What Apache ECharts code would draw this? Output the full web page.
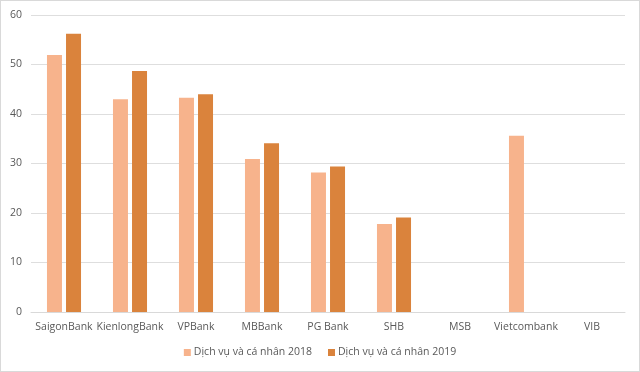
<!DOCTYPE html>
<html><head><meta charset="utf-8">
<script src="https://cdn.jsdelivr.net/npm/echarts@6/dist/echarts.min.js"></script>
<style>html,body{margin:0;padding:0;background:#fff}#c{width:640px;height:372px;box-sizing:border-box;border:1px solid #d9d9d9}</style>
</head><body><div id="c"></div>
<script>
const categories = ['SaigonBank','KienlongBank','VPBank','MBBank','PG Bank','SHB','MSB','Vietcombank','VIB'];
const series2018 = [51.9, 43.0, 43.3, 30.9, 28.2, 17.8, null, 35.6, null];
const series2019 = [56.2, 48.7, 44.0, 34.1, 29.4, 19.1, null, null, null];
const seriesNames = ['Dịch vụ và cá nhân 2018', 'Dịch vụ và cá nhân 2019'];
const yTicks = [0, 10, 20, 30, 40, 50, 60];

const font = '"Open Sans", sans-serif';
const chart = echarts.init(document.getElementById('c'));
chart.setOption({
  animation: false,
  textStyle: {fontFamily: font},
  grid: {left: 30, right: 14, top: 14, bottom: 59, containLabel: false},
  legend: {
    bottom: 8, left: 'center', itemWidth: 7, itemHeight: 7, itemGap: 16,
    icon: 'rect',
    textStyle: {fontFamily: font, fontSize: 10.5, color: '#595959', padding: [0,0,0,-2]},
    data: seriesNames
  },
  xAxis: {
    type: 'category', data: categories,
    axisLine: {lineStyle: {color: '#d9d9d9'}}, axisTick: {show: false},
    axisLabel: {fontFamily: font, fontSize: 10.5, color: '#595959', margin: 10, interval: 0}
  },
  yAxis: {
    type: 'value', min: yTicks[0], max: yTicks[yTicks.length-1], interval: 10,
    axisLine: {show: false}, axisTick: {show: false},
    splitLine: {lineStyle: {color: '#dedede'}},
    axisLabel: {fontFamily: font, fontSize: 10.5, color: '#595959', margin: 9}
  },
  series: [
    {name: seriesNames[0], type: 'bar', data: series2018, barWidth: 15, barGap: '27%', itemStyle: {color: '#F7B38C'}},
    {name: seriesNames[1], type: 'bar', data: series2019, barWidth: 15, itemStyle: {color: '#DA833C'}}
  ]
});
</script></body></html>
